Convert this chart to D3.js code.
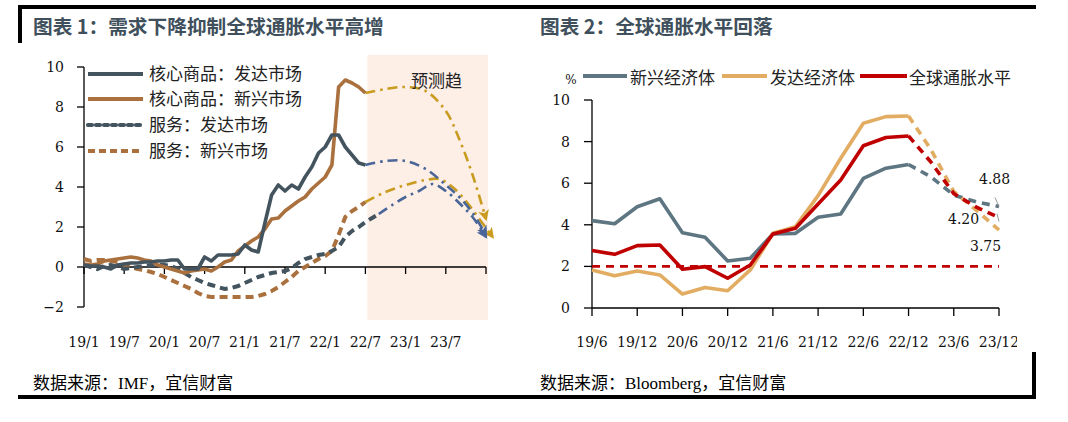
<!DOCTYPE html>
<html><head><meta charset="utf-8">
<script src="https://cdn.jsdelivr.net/npm/d3@7"></script>
<style>
body{margin:0;background:#fff}
svg{display:block}
</style></head><body>
<svg id="c" width="1068" height="422"></svg>
<script>
// ---------- Left chart data (monthly, index 0 = 19/1) ----------
const leftTicks = ["19/1","19/7","20/1","20/7","21/1","21/7","22/1","22/7","23/1","23/7"];
const leftYTicks = [-2,0,2,4,6,8,10];
const coreGoodsDev = [0.1,0.05,0.05,0.0,-0.1,0.1,0.15,0.2,0.2,0.25,0.25,0.3,
 0.3,0.35,0.35,-0.1,-0.1,-0.1,0.5,0.3,0.6,0.6,0.6,0.65,
 1.1,0.85,0.75,2.2,3.6,4.1,3.8,4.1,3.9,4.5,5.0,5.7,
 6.0,6.6,6.6,6.0,5.6,5.2,5.1];
const coreGoodsEm = [0.15,0.1,0.15,0.3,0.35,0.4,0.45,0.5,0.45,0.35,0.3,0.1,
 0.0,-0.1,-0.2,-0.3,-0.2,-0.15,-0.1,-0.2,0.0,0.25,0.35,0.8,
 1.05,1.3,1.5,1.9,2.4,2.45,2.8,3.05,3.3,3.5,3.9,4.2,
 4.5,5.1,9.0,9.35,9.2,9.0,8.7];
const servicesDev = [0.1,0.0,-0.1,0.05,0.1,0.0,-0.1,-0.05,0.0,0.05,0.1,0.1,
 0.1,0.05,-0.1,-0.3,-0.5,-0.65,-0.8,-0.9,-1.0,-1.1,-1.05,-0.95,
 -0.8,-0.65,-0.5,-0.4,-0.3,-0.25,-0.2,-0.05,0.2,0.4,0.5,0.6,
 0.65,0.8,1.0,1.5,1.8,2.0,2.25,2.45,2.65];
const servicesEm = [0.4,0.3,0.35,0.35,0.3,0.25,0.1,0.0,-0.1,-0.15,-0.25,-0.35,
 -0.5,-0.65,-0.8,-0.95,-1.1,-1.3,-1.45,-1.5,-1.5,-1.5,-1.5,-1.5,
 -1.5,-1.5,-1.45,-1.35,-1.2,-1.0,-0.75,-0.5,-0.2,0.0,0.2,0.4,
 0.55,0.8,1.6,2.5,2.8,3.0,3.25];
// forecast paths: [month index, value]
const fcCoreGoodsEm = [[42,8.7],[45,8.9],[48,9.0],[51,8.8],[54,7.8],[56,6.4],[58,4.6],[60,2.4]];
const fcCoreGoodsDev = [[42,5.1],[45,5.3],[48,5.3],[51,4.9],[54,4.1],[56,3.5],[58,2.7],[60,1.6]];
const fcServicesEm = [[42,3.25],[45,3.75],[48,4.1],[51,4.35],[53,4.4],[55,4.0],[57,3.3],[59,2.4],[61,1.5]];
const fcServicesDev = [[44,2.65],[46,3.1],[48,3.5],[50,3.8],[52,4.15],[54,3.8],[56,3.2],[58,2.5],[60,1.5]];
const leftLegend = ["核心商品：发达市场","核心商品：新兴市场","服务：发达市场","服务：新兴市场"];

// ---------- Right chart data (quarterly) ----------
const quarters = ["19/6","19/9","19/12","20/3","20/6","20/9","20/12","21/3","21/6","21/9","21/12","22/3","22/6","22/9","22/12","23/3","23/6","23/9","23/12"];
const rightTicks = ["19/6","19/12","20/6","20/12","21/6","21/12","22/6","22/12","23/6","23/12"];
const rightYTicks = [0,2,4,6,8,10];
const emerging = [4.2,4.05,4.87,5.25,3.62,3.4,2.26,2.39,3.56,3.59,4.36,4.52,6.23,6.72,6.9,6.3,5.43,5.1,4.88];
const developed = [1.83,1.55,1.78,1.59,0.67,0.99,0.83,1.83,3.59,3.91,5.4,7.2,8.88,9.2,9.23,7.6,5.6,4.7,3.75];
const globalInf = [2.76,2.58,3.0,3.03,1.86,1.99,1.43,2.07,3.56,3.83,5.0,6.15,7.8,8.2,8.27,7.0,5.5,4.85,4.35];
const target = 2;
const forecastFrom = "22/12";
const rightLegend = ["新兴经济体","发达经济体","全球通胀水平"];
const endLabels = ["4.88","4.20","3.75"];

// ---------- drawing ----------
const svg = d3.select("#c");
const serif = "'DejaVu Serif', serif";
const cjk = "'Noto Sans CJK SC', sans-serif";
const C = {dark:"#44545f", brown:"#aa713f", gold:"#c99b1f", blue:"#4a6699",
  rGray:"#5e7682", rGold:"#e2ad62", rRed:"#c00000", shade:"#fdeee6", title:"#404f5c"};

// frame
svg.append("rect").attr("x",18).attr("y",5).attr("width",1018).attr("height",4).attr("fill","#000");
svg.append("rect").attr("x",18).attr("y",5).attr("width",4).attr("height",38).attr("fill","#000");
svg.append("rect").attr("x",18).attr("y",395).attr("width",1018).attr("height",4).attr("fill","#000");
svg.append("rect").attr("x",1032).attr("y",352).attr("width",4).attr("height",47).attr("fill","#000");

// titles
svg.append("text").attr("x",33).attr("y",34).attr("font-family",cjk).attr("font-weight","bold")
  .attr("font-size",19.7).attr("fill",C.title).text("图表 1：需求下降抑制全球通胀水平高增");
svg.append("text").attr("x",540).attr("y",34).attr("font-family",cjk).attr("font-weight","bold")
  .attr("font-size",19.7).attr("fill",C.title).text("图表 2：全球通胀水平回落");

// footers
const foot = "'Liberation Serif', 'Noto Sans CJK SC', serif";
svg.append("text").attr("x",33).attr("y",389).attr("font-family",foot).attr("font-size",17).attr("fill","#000").text("数据来源：IMF，宜信财富");
svg.append("text").attr("x",540).attr("y",389).attr("font-family",foot).attr("font-size",17).attr("fill","#000").text("数据来源：Bloomberg，宜信财富");

// ===== Left chart =====
const xL = d3.scaleLinear().domain([0,60]).range([84,486]);
const yL = d3.scaleLinear().domain([-2,10]).range([307,67]);
const gL = svg.append("g");

gL.append("rect").attr("x",xL(42)+2).attr("y",55).attr("width",xL(60)-xL(42)).attr("height",265).attr("fill",C.shade);

// y axis
gL.append("line").attr("x1",xL(0)).attr("x2",xL(0)).attr("y1",yL(10)).attr("y2",yL(-2)).attr("stroke","#000").attr("stroke-width",1.3);
leftYTicks.forEach(v=>{
  gL.append("line").attr("x1",xL(0)-7).attr("x2",xL(0)).attr("y1",yL(v)).attr("y2",yL(v)).attr("stroke","#000").attr("stroke-width",1.3);
  gL.append("text").attr("x",xL(0)-20).attr("y",yL(v)).attr("dy","0.36em").attr("text-anchor","end")
    .attr("font-family",serif).attr("font-size",14).attr("fill","#111").text(v<0?"\u2212"+Math.abs(v):v);
});
// x axis at 0
gL.append("line").attr("x1",xL(0)).attr("x2",xL(60)).attr("y1",yL(0)).attr("y2",yL(0)).attr("stroke","#000").attr("stroke-width",1.3);
leftTicks.forEach((t,i)=>{
  const x = xL(i*6);
  gL.append("line").attr("x1",x).attr("x2",x).attr("y1",yL(0)).attr("y2",yL(0)+7).attr("stroke","#000").attr("stroke-width",1.3);
  gL.append("text").attr("x",x).attr("y",342).attr("dy","0.36em").attr("text-anchor","middle")
    .attr("font-family",serif).attr("font-size",14).attr("fill","#111").text(t);
});
gL.append("line").attr("x1",xL(60)).attr("x2",xL(60)).attr("y1",yL(0)).attr("y2",yL(0)+7).attr("stroke","#000").attr("stroke-width",1.3);

// markers
const defs = svg.append("defs");
function marker(id,color){
  defs.append("marker").attr("id",id).attr("viewBox","0 0 10 10").attr("refX",8).attr("refY",5)
    .attr("markerWidth",13).attr("markerHeight",11).attr("markerUnits","userSpaceOnUse").attr("orient","auto")
    .append("path").attr("d","M0,0 L10,5 L0,10 L2.5,5 Z").attr("fill",color);
}
marker("aGold",C.gold); marker("aBlue",C.blue);

const lineIdx = d3.line().x((d,i)=>xL(i)).y(d=>yL(d));
const linePair = d3.line().x(d=>xL(d[0])).y(d=>yL(d[1])).curve(d3.curveCatmullRom.alpha(0.5));

// forecast lines
[[fcServicesDev,C.blue,"aBlue"],[fcServicesEm,C.gold,"aGold"],[fcCoreGoodsDev,C.blue,"aBlue"],[fcCoreGoodsEm,C.gold,"aGold"]].forEach(([d,c,m])=>{
  gL.append("path").attr("d",linePair(d)).attr("fill","none").attr("stroke",c).attr("stroke-width",2.6)
    .attr("stroke-dasharray","10,5,2.5,5").attr("marker-end",`url(#${m})`);
});

// historic lines
gL.append("path").attr("d",lineIdx(servicesEm)).attr("fill","none").attr("stroke",C.brown).attr("stroke-width",4).attr("stroke-dasharray","8,5");
gL.append("path").attr("d",lineIdx(servicesDev)).attr("fill","none").attr("stroke",C.dark).attr("stroke-width",4).attr("stroke-dasharray","8,5");
gL.append("path").attr("d",lineIdx(coreGoodsEm)).attr("fill","none").attr("stroke",C.brown).attr("stroke-width",3.6).attr("stroke-linejoin","round");
gL.append("path").attr("d",lineIdx(coreGoodsDev)).attr("fill","none").attr("stroke",C.dark).attr("stroke-width",3.6).attr("stroke-linejoin","round");

// legend
const legStyles = [[C.dark,null],[C.brown,null],[C.dark,"4,4"],[C.brown,"7,4"]];
const legY = [74,99,125,151];
leftLegend.forEach((t,i)=>{
  const [c,dash] = legStyles[i];
  const l = gL.append("line").attr("x1",88).attr("x2",143).attr("y1",legY[i]).attr("y2",legY[i])
    .attr("stroke",c).attr("stroke-width",4.2);
  if(dash) l.attr("stroke-dasharray",dash).attr("stroke-linecap", i===2?"round":"butt");
  gL.append("text").attr("x",149).attr("y",legY[i]).attr("dy","0.36em").attr("font-family",cjk)
    .attr("font-size",17).attr("fill","#222").text(t);
});
gL.append("text").attr("x",411).attr("y",81).attr("dy","0.36em").attr("font-family",cjk)
  .attr("font-size",17).attr("fill","#222").text("预测趋");

// ===== Right chart =====
const xR = d3.scalePoint().domain(quarters).range([592,999]);
const yR = d3.scaleLinear().domain([0,10]).range([308,100]);
const clip = defs.append("clipPath").attr("id","rc");
clip.append("rect").attr("x",530).attr("y",40).attr("width",487).attr("height",330);
const gR = svg.append("g").attr("clip-path","url(#rc)");

gR.append("line").attr("x1",592).attr("x2",592).attr("y1",yR(10)).attr("y2",yR(0)).attr("stroke","#000").attr("stroke-width",1.3);
rightYTicks.forEach(v=>{
  gR.append("line").attr("x1",584).attr("x2",592).attr("y1",yR(v)).attr("y2",yR(v)).attr("stroke","#000").attr("stroke-width",1.3);
  gR.append("text").attr("x",570).attr("y",yR(v)).attr("dy","0.36em").attr("text-anchor","end")
    .attr("font-family",serif).attr("font-size",14).attr("fill","#111").text(v);
});
gR.append("text").attr("x",571).attr("y",80).attr("dy","0.36em").attr("text-anchor","middle")
  .attr("font-family",serif).attr("font-size",12).attr("fill","#111").text("%");
gR.append("line").attr("x1",592).attr("x2",xR("23/12")).attr("y1",yR(0)).attr("y2",yR(0)).attr("stroke","#000").attr("stroke-width",1.3);
rightTicks.forEach(t=>{
  const x = xR(t);
  gR.append("line").attr("x1",x).attr("x2",x).attr("y1",yR(0)).attr("y2",yR(0)+8).attr("stroke","#000").attr("stroke-width",1.3);
  gR.append("text").attr("x",x).attr("y",342).attr("dy","0.36em").attr("text-anchor","middle")
    .attr("font-family",serif).attr("font-size",14).attr("fill","#111").text(t);
});

// target line
gR.append("line").attr("x1",592).attr("x2",xR("23/12")).attr("y1",yR(target)).attr("y2",yR(target))
  .attr("stroke",C.rRed).attr("stroke-width",2.6).attr("stroke-dasharray","8,6");

const lineR = d3.line().x(d=>xR(d.q)).y(d=>yR(d.v));
const fi = quarters.indexOf(forecastFrom);
function drawR(vals,color){
  const pts = quarters.map((q,i)=>({q,v:vals[i]}));
  gR.append("path").attr("d",lineR(pts.slice(0,fi+1))).attr("fill","none").attr("stroke",color)
    .attr("stroke-width",3.6).attr("stroke-linejoin","round");
  gR.append("path").attr("d",lineR(pts.slice(fi))).attr("fill","none").attr("stroke",color)
    .attr("stroke-width",3.6).attr("stroke-dasharray","8,6");
}
drawR(emerging,C.rGray);
drawR(developed,C.rGold);
drawR(globalInf,C.rRed);

// end labels with leaders
const xe = xR("23/12");
gR.append("line").attr("x1",xe-4).attr("x2",xe).attr("y1",yR(emerging[18])-9).attr("y2",yR(emerging[18])).attr("stroke","#999").attr("stroke-width",1);
gR.append("line").attr("x1",xe-2).attr("x2",xe).attr("y1",yR(globalInf[18])-4).attr("y2",yR(globalInf[18])+4).attr("stroke","#999").attr("stroke-width",1);
gR.append("text").attr("x",979).attr("y",179).attr("dy","0.36em").attr("font-family",serif).attr("font-size",14).attr("fill","#111").text(endLabels[0]);
gR.append("text").attr("x",948).attr("y",219).attr("dy","0.36em").attr("font-family",serif).attr("font-size",14).attr("fill","#111").text(endLabels[1]);
gR.append("text").attr("x",970).attr("y",246).attr("dy","0.36em").attr("font-family",serif).attr("font-size",14).attr("fill","#111").text(endLabels[2]);

// right legend
const rl = [[583,627,630,C.rGray],[722,767,770,C.rGold],[860,907,909,C.rRed]];
rightLegend.forEach((t,i)=>{
  const [a,b,tx,c] = rl[i];
  gR.append("line").attr("x1",a).attr("x2",b).attr("y1",76).attr("y2",76).attr("stroke",c).attr("stroke-width",4);
  gR.append("text").attr("x",tx).attr("y",78).attr("dy","0.36em").attr("font-family",cjk)
    .attr("font-size",17).attr("fill","#222").text(t);
});
</script>
</body></html>
